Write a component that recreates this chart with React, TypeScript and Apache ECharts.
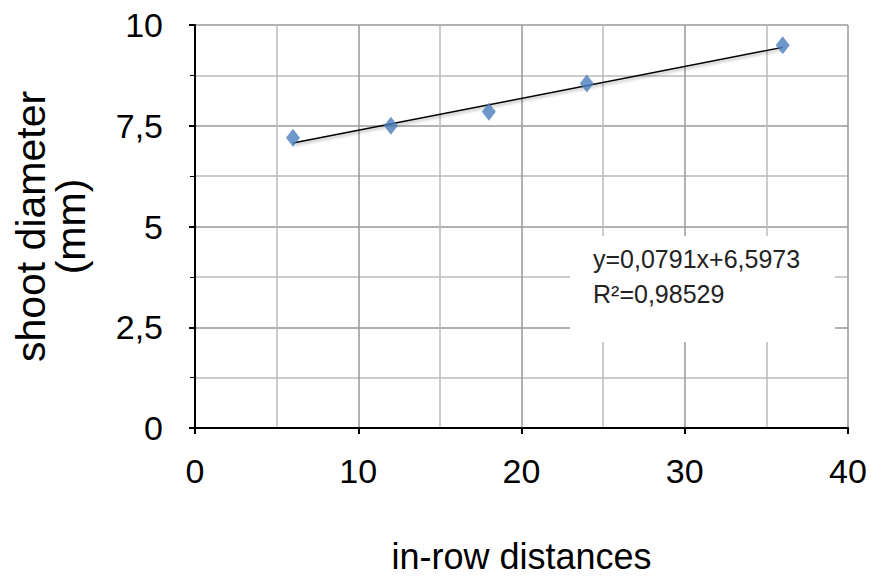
import React, { useEffect, useRef } from "react";
import * as echarts from "echarts";

const distances = [6, 12, 18, 24, 36];
const diameters = [7.2, 7.5, 7.85, 8.55, 9.5];
const slope = 0.0791;
const intercept = 6.5973;
const equationText = "y=0,0791x+6,5973";
const r2Text = "R²=0,98529";
const xTitle = "in-row distances";
const yTitle = "shoot diameter\n(mm)";

const FONT = "'Liberation Sans', Arial, sans-serif";

export default function App() {
  const ref = useRef<HTMLDivElement>(null);
  useEffect(() => {
    if (!ref.current) return;
    const chart = echarts.init(ref.current, null, { renderer: "svg" });
    const xs = [distances[0], distances[distances.length - 1]];
    const trend = xs.map((x) => [x, intercept + slope * x]);
    chart.setOption({
      animation: false,
      backgroundColor: "#fff",
      grid: { left: 195, right: 23, top: 25, bottom: 153, outerBoundsMode: "none", containLabel: false },
      xAxis: {
        type: "value",
        min: 0,
        max: 40,
        interval: 10,
        name: xTitle,
        nameLocation: "middle",
        nameGap: 110,
        nameTextStyle: { fontFamily: FONT, fontSize: 36, color: "#000" },
        axisLine: { show: true, lineStyle: { color: "#000", width: 2 } },
        axisTick: { show: true, length: 6, lineStyle: { color: "#000", width: 2 } },
        axisLabel: { fontFamily: FONT, fontSize: 34, color: "#000", margin: 26 },
        splitLine: { show: true, lineStyle: { color: "#999", width: 1.5 } },
        minorTick: { show: false, splitNumber: 2 },
        minorSplitLine: { show: true, lineStyle: { color: "#bbb", width: 1.5 } },
      },
      yAxis: {
        type: "value",
        min: 0,
        max: 10,
        interval: 2.5,
        name: yTitle,
        nameLocation: "middle",
        nameGap: 104,
        nameRotate: 90,
        nameTextStyle: { fontFamily: FONT, fontSize: 41, color: "#000", lineHeight: 40 },
        axisLine: { show: true, lineStyle: { color: "#000", width: 2 } },
        axisTick: { show: true, length: 6, lineStyle: { color: "#000", width: 2 } },
        axisLabel: {
          fontFamily: FONT,
          fontSize: 34,
          color: "#000",
          margin: 32,
          formatter: (v: number) => String(v).replace(".", ","),
        },
        splitLine: { show: true, lineStyle: { color: "#999", width: 1.5 } },
        minorTick: { show: true, splitNumber: 2, length: 5, lineStyle: { color: "#000" } },
        minorSplitLine: { show: true, lineStyle: { color: "#bbb", width: 1.5 } },
      },
      graphic: [
        {
          type: "rect",
          shape: { x: 570, y: 236, width: 265, height: 106 },
          style: { fill: "#fff" },
          z: 10,
        },
        {
          type: "text",
          x: 593,
          y: 259,
          style: {
            text: equationText,
            font: `25px ${FONT}`,
            fill: "#222",
            verticalAlign: "middle",
          },
          z: 11,
        },
        {
          type: "text",
          x: 593,
          y: 294,
          style: {
            text: r2Text,
            font: `25px ${FONT}`,
            fill: "#222",
            verticalAlign: "middle",
          },
          z: 11,
        },
      ],
      series: [
        {
          type: "line",
          data: trend,
          symbol: "none",
          lineStyle: {
            color: "#000",
            width: 1.5,
            shadowColor: "rgba(0,0,0,0.35)",
            shadowBlur: 3,
            shadowOffsetY: 2,
          },
          z: 3,
        },
        {
          type: "scatter",
          data: distances.map((x, i) => [x, diameters[i]]),
          symbol: "diamond",
          symbolSize: [14, 18],
          itemStyle: { color: "#4a7ebb" },
          z: 4,
        },
      ],
    });
    return () => chart.dispose();
  }, []);
  return (
    <div
      ref={ref}
      style={{ position: "fixed", left: 0, top: 0, width: 871, height: 581 }}
    />
  );
}
